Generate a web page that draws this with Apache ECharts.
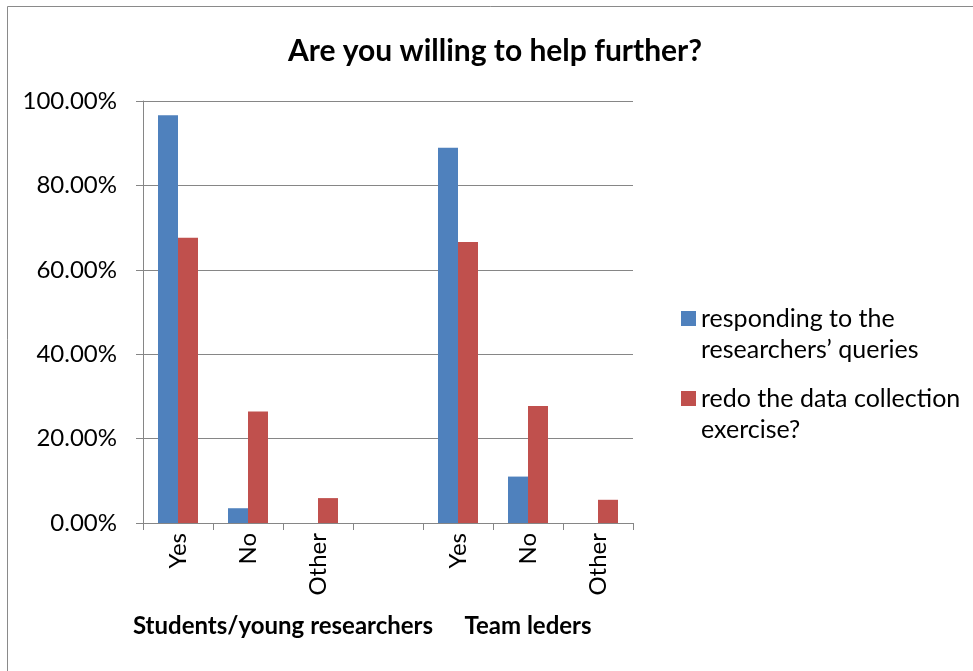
<!DOCTYPE html>
<html>
<head>
<meta charset="utf-8">
<script src="https://cdn.jsdelivr.net/npm/echarts@6/dist/echarts.min.js"></script>
<style>
    html, body { margin: 0; padding: 0; background: #fff; }
    #helpChart { width: 973px; height: 671px; }
</style>
</head>
<body>
<div id="helpChart"></div>
<script>
    var categories = ['Yes', 'No', 'Other', '', 'Yes', 'No', 'Other'];
    var groupNames = ['Students/young researchers', 'Team leders'];
    var groupSpans = [4, 3];
    var seriesNames = ['responding to the\nresearchers\u2019 queries', 'redo the data collection\nexercise?'];
    var respondingValues = [96.6, 3.5, 0, null, 88.9, 11.0, 0];
    var redoValues = [67.6, 26.4, 5.9, null, 66.6, 27.7, 5.5];
    var yTicks = [0, 20, 40, 60, 80, 100];

    var helpChart = echarts.init(document.getElementById('helpChart'));

    // centre of each group on a 0..n scale under the category axis
    var groupCenters = [];
    var start = 0;
    for (var i = 0; i < groupSpans.length; i++) {
        groupCenters.push(start + groupSpans[i] / 2);
        start += groupSpans[i];
    }

    var axisGray = '#868686';
    var font = 'Lato';

    var option = {
        animation: false,
        backgroundColor: '#fff',
        textStyle: { fontFamily: font },
        graphic: [{
            type: 'rect',
            shape: { x: 7.5, y: 6.5, width: 1000, height: 700 },
            style: { fill: 'none', stroke: '#8a8a8a', lineWidth: 1 },
            silent: true
        }],
        title: {
            text: 'Are you willing to help further?',
            left: 490,
            top: 31,
            textAlign: 'center',
            textStyle: { fontFamily: font, fontSize: 30, fontWeight: 'bold', color: '#000' }
        },
        legend: {
            orient: 'vertical',
            left: 676,
            top: 267,
            itemWidth: 15,
            itemHeight: 15,
            itemGap: -13,
            icon: 'rect',
            data: seriesNames,
            // empty first line keeps the first text line level with the square
            formatter: function (name) {
                return '\n' + name;
            },
            textStyle: {
                fontFamily: font,
                fontSize: 25,
                color: '#000',
                lineHeight: 31
            }
        },
        grid: {
            left: 143,
            right: 340,
            top: 101,
            bottom: 148,
            containLabel: false
        },
        xAxis: [{
            type: 'category',
            data: categories,
            axisLine: { lineStyle: { color: axisGray } },
            axisTick: { show: true, length: 7, lineStyle: { color: axisGray } },
            axisLabel: {
                rotate: 90,
                interval: 0,
                margin: 10,
                fontFamily: font,
                fontSize: 24,
                color: '#000'
            }
        }, {
            type: 'value',
            position: 'bottom',
            min: 0,
            max: categories.length,
            interval: 0.5,
            axisLine: { show: false },
            axisTick: { show: false },
            splitLine: { show: false },
            axisLabel: {
                margin: 91,
                showMinLabel: true,
                showMaxLabel: true,
                fontFamily: font,
                fontSize: 24,
                fontWeight: 'bold',
                color: '#000',
                formatter: function (v) {
                    for (var k = 0; k < groupCenters.length; k++) {
                        if (Math.abs(v - groupCenters[k]) < 1e-6) return groupNames[k];
                    }
                    return '';
                }
            }
        }],
        yAxis: {
            type: 'value',
            min: yTicks[0],
            max: yTicks[yTicks.length - 1],
            interval: yTicks[1] - yTicks[0],
            axisLine: { show: true, lineStyle: { color: axisGray } },
            axisTick: { show: true, length: 7, lineStyle: { color: axisGray } },
            splitLine: { lineStyle: { color: axisGray, width: 1 } },
            axisLabel: {
                margin: 26,
                fontFamily: font,
                fontSize: 24,
                color: '#000',
                formatter: function (v) {
                    return v.toFixed(2) + '%';
                }
            }
        },
        series: [{
            name: seriesNames[0],
            type: 'bar',
            xAxisIndex: 0,
            data: respondingValues,
            barWidth: 20,
            barGap: '0%',
            itemStyle: { color: '#4F81BD' }
        }, {
            name: seriesNames[1],
            type: 'bar',
            xAxisIndex: 0,
            data: redoValues,
            barWidth: 20,
            barGap: '0%',
            itemStyle: { color: '#C0504D' }
        }]
    };

    helpChart.setOption(option);
</script>
</body>
</html>
